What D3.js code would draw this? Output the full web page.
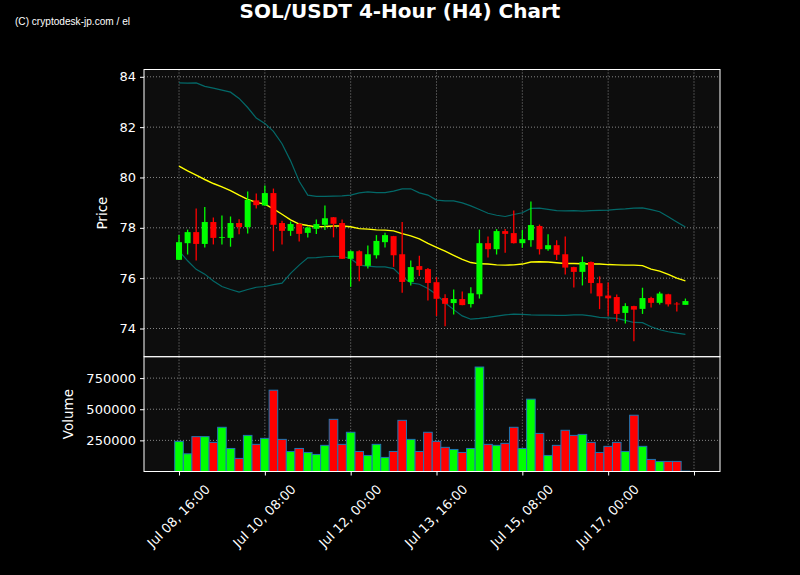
<!DOCTYPE html>
<html><head><meta charset="utf-8">
<script src="https://cdn.jsdelivr.net/npm/d3@7/dist/d3.min.js"></script>
<style>html,body{margin:0;padding:0;background:#000;}svg{display:block;}</style>
</head><body>
<script>
// ---- data ----
const startTime = new Date(2024, 6, 8, 16, 0);   // Jul 08, 16:00, 4-hour candles
const open  = [76.73,77.39,77.83,77.36,78.23,77.61,77.60,78.19,78.03,79.09,78.89,79.38,78.19,77.88,78.15,77.80,77.96,78.12,78.42,78.19,76.77,77.07,76.49,76.91,77.43,77.67,76.95,75.85,76.48,76.36,75.84,75.21,75.01,75.17,74.97,75.36,77.39,77.15,77.87,77.79,77.39,77.51,78.07,77.15,77.31,76.95,76.44,76.25,76.64,75.80,75.31,75.25,74.62,74.89,74.78,75.21,75.02,75.36,74.99,74.94];
const high  = [77.71,77.93,78.77,78.83,78.41,78.49,78.45,78.34,79.44,79.36,79.68,79.56,78.28,78.25,78.20,78.05,78.33,78.89,78.43,78.33,77.10,77.11,77.30,77.71,77.80,77.68,78.23,76.70,76.89,76.40,76.04,75.36,75.55,75.47,75.64,77.93,77.66,77.95,77.95,78.69,77.91,79.05,78.13,77.74,77.51,77.66,76.45,76.86,76.66,76.07,75.83,75.35,75.00,74.90,75.62,75.26,75.46,75.38,75.05,75.19];
const low   = [76.72,76.94,76.70,77.22,77.34,77.34,77.25,77.74,77.77,78.77,78.88,77.07,77.34,77.68,77.46,77.62,77.75,77.91,77.62,76.76,75.66,75.88,76.38,76.78,77.22,76.45,75.42,75.71,76.09,75.11,74.50,74.09,74.56,74.92,74.83,75.19,76.82,76.94,77.01,77.38,77.21,77.25,76.94,77.09,76.72,76.15,75.63,75.71,75.39,74.77,74.51,74.28,74.20,73.49,74.58,74.83,74.95,74.87,74.68,74.94];
const close = [77.43,77.83,77.36,78.23,77.60,77.63,78.19,78.03,79.11,78.90,79.38,78.12,77.88,78.15,77.76,78.01,78.15,78.38,78.16,76.77,77.07,76.49,76.95,77.48,77.71,76.91,75.85,76.44,76.33,75.81,75.18,74.98,75.17,74.93,75.40,77.39,77.15,77.87,77.76,77.39,77.55,78.11,77.15,77.31,76.93,76.42,76.25,76.64,75.81,75.28,75.20,74.58,74.89,74.75,75.21,75.02,75.39,74.96,74.96,75.09];
const volume = [242000,142000,280000,280000,234000,355000,185000,105000,290000,218000,266000,653000,258000,161000,185000,153000,137000,210000,419000,218000,315000,161000,129000,218000,113000,161000,411000,258000,161000,315000,242000,194000,177000,153000,185000,839000,218000,210000,226000,355000,185000,581000,306000,129000,210000,331000,290000,298000,234000,153000,202000,234000,161000,452000,202000,97000,81000,81000,81000,3000];
const sma20 = [80.45,80.26,80.09,79.92,79.76,79.63,79.48,79.30,79.13,79.01,78.94,78.75,78.54,78.32,78.15,78.09,78.04,78.05,78.07,78.07,78.04,77.97,77.95,77.92,77.91,77.88,77.77,77.68,77.56,77.38,77.22,77.07,76.91,76.75,76.62,76.57,76.56,76.53,76.52,76.53,76.56,76.64,76.65,76.64,76.61,76.58,76.58,76.57,76.56,76.56,76.54,76.53,76.52,76.52,76.50,76.36,76.28,76.15,76.00,75.89];
const bbUpper = [83.76,83.75,83.76,83.62,83.55,83.47,83.39,83.14,82.78,82.36,82.15,81.83,81.34,80.66,79.85,79.30,79.25,79.25,79.26,79.27,79.30,79.39,79.43,79.40,79.40,79.46,79.55,79.55,79.39,79.30,79.10,79.07,79.07,78.99,78.87,78.73,78.58,78.50,78.45,78.53,78.60,78.77,78.78,78.73,78.68,78.67,78.68,78.66,78.68,78.69,78.70,78.73,78.75,78.78,78.79,78.72,78.64,78.44,78.23,78.03];
const bbLower = [77.08,76.69,76.35,76.16,75.89,75.67,75.55,75.45,75.55,75.64,75.67,75.74,75.80,76.19,76.52,76.81,76.82,76.85,76.87,76.86,76.78,76.52,76.48,76.45,76.45,76.38,76.05,75.81,75.76,75.59,75.35,75.02,74.75,74.50,74.37,74.40,74.44,74.49,74.54,74.57,74.56,74.54,74.53,74.53,74.52,74.52,74.54,74.54,74.50,74.44,74.42,74.40,74.32,74.24,74.23,74.07,73.95,73.87,73.82,73.77];
const priceTicks = [74, 76, 78, 80, 82, 84];
const volumeTicks = [250000, 500000, 750000];
const xTickIndex = [0, 10, 20, 30, 40, 50, 60];
const xTickLabels = ["Jul 08, 16:00", "Jul 10, 08:00", "Jul 12, 00:00", "Jul 13, 16:00", "Jul 15, 08:00", "Jul 17, 00:00", ""];
const titleText = "SOL/USDT 4-Hour (H4) Chart";
const watermark = "(C) cryptodesk-jp.com / el";

// ---- layout ----
const W = 800, H = 575;
const L = 144, R = 720, PT = 69.5, PB = 356.7, VT = 356.7, VB = 471.5;
const H4 = 4 * 3600 * 1000;
const times = close.map((_, i) => new Date(+startTime + i * H4));
const font = "'DejaVu Sans', sans-serif";
const tickFs = 13;

const svg = d3.select("body").append("svg").attr("width", W).attr("height", H)
  .style("background", "#000");

const x = d3.scaleTime()
  .domain([new Date(+startTime - 4.08 * H4), new Date(+startTime + 63.03 * H4)])
  .range([L, R]);
const y = d3.scaleLinear().domain([72.88, 84.29]).range([PB, PT]);
const yv = d3.scaleLinear().domain([0, 922000]).range([VB, VT]);
const step = x(times[1]) - x(times[0]);
const tickTimes = xTickIndex.map(i => new Date(+startTime + i * H4));

// panels
svg.append("rect").attr("x", L).attr("y", PT).attr("width", R - L).attr("height", PB - PT).attr("fill", "#0d0d0d");
svg.append("rect").attr("x", L).attr("y", VT).attr("width", R - L).attr("height", VB - VT).attr("fill", "#0d0d0d");

const gridStyle = g => g.attr("stroke", "#9a9a9a").attr("stroke-width", 1).attr("stroke-dasharray", "1,2").attr("stroke-opacity", 0.85);

// grids
const gp = svg.append("g");
gp.selectAll("line.h").data(priceTicks).join("line")
  .attr("x1", L).attr("x2", R).attr("y1", d => y(d)).attr("y2", d => y(d)).call(gridStyle);
gp.selectAll("line.v").data(tickTimes).join("line")
  .attr("x1", d => x(d)).attr("x2", d => x(d)).attr("y1", PT).attr("y2", PB).call(gridStyle);
const gv = svg.append("g");
gv.selectAll("line.h").data(volumeTicks).join("line")
  .attr("x1", L).attr("x2", R).attr("y1", d => yv(d)).attr("y2", d => yv(d)).call(gridStyle);
gv.selectAll("line.v").data(tickTimes).join("line")
  .attr("x1", d => x(d)).attr("x2", d => x(d)).attr("y1", VT).attr("y2", VB).call(gridStyle);

// bands + sma
const line = arr => d3.line().x((d, i) => x(times[i])).y(d => y(d))(arr);
svg.append("path").attr("d", line(bbUpper)).attr("fill", "none").attr("stroke", "#008080").attr("stroke-opacity", 0.8).attr("stroke-width", 1.2);
svg.append("path").attr("d", line(bbLower)).attr("fill", "none").attr("stroke", "#008080").attr("stroke-opacity", 0.8).attr("stroke-width", 1.2);
svg.append("path").attr("d", line(sma20)).attr("fill", "none").attr("stroke", "#ffff00").attr("stroke-width", 1.4);

// candles
const up = i => close[i] >= open[i];
const col = i => up(i) ? "#00ff00" : "#ff0000";
const idx = d3.range(close.length);
const bw = step * 0.7;
const cg = svg.append("g");
cg.selectAll("line").data(idx).join("line")
  .attr("x1", i => x(times[i])).attr("x2", i => x(times[i]))
  .attr("y1", i => y(high[i])).attr("y2", i => y(low[i]))
  .attr("stroke", col).attr("stroke-width", 1.3);
cg.selectAll("rect").data(idx).join("rect")
  .attr("x", i => x(times[i]) - bw / 2).attr("width", bw)
  .attr("y", i => y(Math.max(open[i], close[i])))
  .attr("height", i => Math.max(0.8, Math.abs(y(open[i]) - y(close[i]))))
  .attr("fill", col);

// volume bars
svg.append("g").selectAll("rect").data(idx).join("rect")
  .attr("x", i => x(times[i]) - step / 2).attr("width", step)
  .attr("y", i => yv(volume[i])).attr("height", i => yv(0) - yv(volume[i]))
  .attr("fill", col).attr("stroke", "#1f77b4").attr("stroke-width", 1);

// spines
const sp = svg.append("g").attr("fill", "none").attr("stroke", "#fff").attr("stroke-width", 1);
sp.append("rect").attr("x", L).attr("y", PT).attr("width", R - L).attr("height", PB - PT);
sp.append("rect").attr("x", L).attr("y", VT).attr("width", R - L).attr("height", VB - VT);

// axes
const axStyle = g => {
  g.select(".domain").remove();
  g.selectAll(".tick line").attr("stroke", "#fff");
  g.selectAll(".tick text").attr("fill", "#fff").attr("font-family", font).attr("font-size", tickFs);
};
svg.append("g").attr("transform", `translate(${L},0)`)
  .call(d3.axisLeft(y).tickValues(priceTicks).tickSize(4).tickPadding(4).tickFormat(d3.format("d"))).call(axStyle);
svg.append("g").attr("transform", `translate(${L},0)`)
  .call(d3.axisLeft(yv).tickValues(volumeTicks).tickSize(4).tickPadding(4).tickFormat(d3.format("d"))).call(axStyle);

const xa = svg.append("g").attr("transform", `translate(0,${VB})`)
  .call(d3.axisBottom(x).tickValues(tickTimes).tickSize(4).tickFormat((d, i) => xTickLabels[i]));
xa.select(".domain").remove();
xa.selectAll(".tick line").attr("stroke", "#fff");
xa.selectAll(".tick text").each(function () {
  const t = d3.select(this);
  t.attr("fill", "#fff").attr("font-family", font).attr("font-size", tickFs)
   .attr("y", 0).attr("dy", "0.35em").attr("text-anchor", "middle");
  const w = this.getComputedTextLength();
  const hgt = tickFs * 1.17;
  const half = (w + hgt) * Math.SQRT1_2 / 2;
  const cy = 10 + half;
  t.attr("transform", `translate(-1,${cy}) rotate(-45)`);
});

// labels
svg.append("text").attr("transform", `translate(107,${(PT + PB) / 2}) rotate(-90)`)
  .attr("text-anchor", "middle").attr("fill", "#fff").attr("font-family", font).attr("font-size", 13.5).text("Price");
svg.append("text").attr("transform", `translate(73,${(VT + VB) / 2}) rotate(-90)`)
  .attr("text-anchor", "middle").attr("fill", "#fff").attr("font-family", font).attr("font-size", 13.5).text("Volume");

svg.append("text").attr("x", 400).attr("y", 18).attr("text-anchor", "middle")
  .attr("fill", "#fff").attr("font-family", font).attr("font-weight", "bold").attr("font-size", 20).text(titleText);
svg.append("text").attr("x", 15).attr("y", 25)
  .attr("fill", "#fff").attr("font-family", "'Liberation Sans Narrow','Liberation Sans',sans-serif").attr("font-size", 10.5)
  .attr("textLength", 115).attr("lengthAdjust", "spacingAndGlyphs").text(watermark);
</script>
</body></html>
